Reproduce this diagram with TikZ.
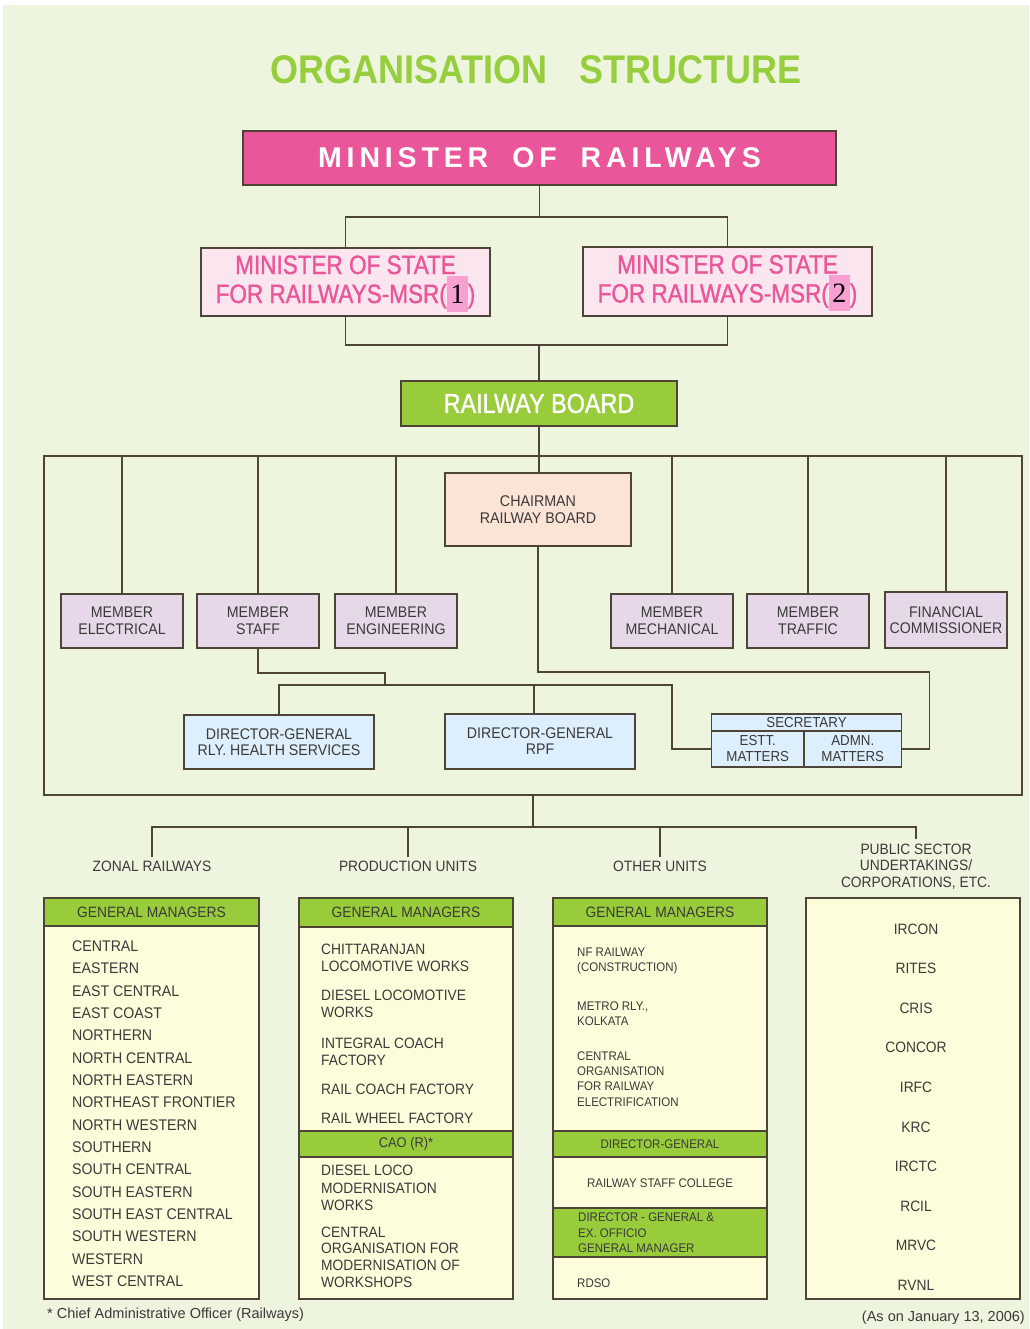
\documentclass[tikz,border=0pt]{standalone}
\usepackage{fontspec}
\usepackage{xcolor}
\setmainfont{Liberation Sans}[FakeStretch=0.92]
\newfontfamily\msrf{Liberation Sans}[FakeStretch=0.85, FakeBold=1.2]
\newfontfamily\titlef{Liberation Sans}[FakeStretch=0.9]
\newfontfamily\minf{Liberation Sans}[LetterSpace=17]
\newfontfamily\widef{Liberation Sans}
\newfontfamily\digf{Liberation Serif}
\definecolor{bg}{RGB}{237,245,222}
\definecolor{ttl}{RGB}{151,206,62}
\definecolor{mpink}{RGB}{233,87,154}
\definecolor{lpink}{RGB}{251,229,238}
\definecolor{hl}{RGB}{248,160,210}
\definecolor{gr}{RGB}{152,204,58}
\definecolor{peach}{RGB}{251,227,214}
\definecolor{lav}{RGB}{230,216,232}
\definecolor{lblue}{RGB}{221,239,252}
\definecolor{cream}{RGB}{253,253,219}
\definecolor{ln}{RGB}{78,68,56}
\definecolor{tx}{RGB}{58,58,58}
\newcommand\bx[7]{\node[#6, minimum width={#4-#2}, minimum height={#5-#3}] (#1) at ({(#2+#4)/2},{(#3+#5)/2}) {#7};}
\newcommand\hlt[1]{\smash{{\setlength{\fboxsep}{3.5pt}\colorbox{hl}{\rule[-5pt]{0pt}{29pt}\color{black}\digf\fontsize{28}{28}\selectfont #1}}}}
\tikzset{
  conn/.style={draw=ln, line width=1.5pt},
  bxs/.style={draw=ln, line width=1.5pt, inner sep=0pt, align=center, text=tx},
  mem/.style={bxs, fill=lav, font=\fontsize{15.4}{16.5}\selectfont},
  dgs/.style={bxs, fill=lblue, font=\fontsize{15.4}{16}\selectfont},
  secs/.style={bxs, fill=lblue, font=\fontsize{14.5}{16}\selectfont},
  hdr/.style={bxs, fill=gr, font=\fontsize{15}{16}\selectfont},
  body/.style={bxs, fill=cream},
  itm/.style={inner sep=0pt, text=tx, anchor=west, align=left},
  lbl/.style={inner xsep=0pt, inner ysep=4pt, text=tx, align=center, font=\fontsize{15}{16.7}\selectfont},
  zf/.style={font=\fontsize{15.4}{17}\selectfont},
  pf/.style={font=\fontsize{15}{17.2}\selectfont},
  of/.style={font=\fontsize{12.5}{15.3}\selectfont},
}
\begin{document}
\begin{tikzpicture}[x=1pt,y=-1pt]
\useasboundingbox (0,0) rectangle (1029,1329);
\fill[white] (0,0) rectangle (1029,1329);
\fill[bg] (3,5) rectangle (1029,1329);

\node[text=ttl, inner sep=0pt, font=\titlef\bfseries\fontsize{40}{40}\selectfont] (title) at (536,70) {ORGANISATION\hspace{32pt}STRUCTURE};

\bx{minister}{243}{131}{836}{185}{bxs, fill=mpink, text=white, font=\minf\bfseries\fontsize{28.5}{28}\selectfont}{MINISTER\hspace{24pt}OF\hspace{24pt}RAILWAYS}

\bx{msr1}{201}{248}{490}{316}{bxs, fill=lpink, text=mpink, font=\msrf\fontsize{26.5}{29}\selectfont}{MINISTER OF STATE\\FOR RAILWAYS-MSR(\hlt{1})}
\bx{msr2}{583}{247}{872}{316}{bxs, fill=lpink, text=mpink, font=\msrf\fontsize{26.5}{29}\selectfont}{MINISTER OF STATE\\FOR RAILWAYS-MSR(\hlt{2})}

\bx{rb}{401}{381}{677}{426}{bxs, fill=gr, text=white, font=\msrf\fontsize{27.5}{28}\selectfont}{RAILWAY BOARD}

\bx{frame}{44}{456}{1022}{795}{draw=ln, line width=1.5pt, inner sep=0pt}{}

\bx{chair}{445}{473}{631}{546}{bxs, fill=peach, font=\fontsize{15.5}{17}\selectfont}{CHAIRMAN\\RAILWAY BOARD}

\bx{mel}{61}{594}{183}{648}{mem}{MEMBER\\ELECTRICAL}
\bx{mst}{197}{594}{319}{648}{mem}{MEMBER\\STAFF}
\bx{men}{335}{594}{457}{648}{mem}{MEMBER\\ENGINEERING}
\bx{mme}{611}{594}{733}{648}{mem}{MEMBER\\MECHANICAL}
\bx{mtr}{747}{594}{869}{648}{mem}{MEMBER\\TRAFFIC}
\bx{mfc}{885}{592}{1007}{648}{mem}{FINANCIAL\\COMMISSIONER}

\bx{dgh}{184}{715}{374}{769}{dgs}{DIRECTOR-GENERAL\\RLY. HEALTH SERVICES}
\bx{dgr}{445}{714}{635}{769}{dgs}{DIRECTOR-GENERAL\\RPF}
\bx{sech}{711.5}{714}{901.5}{731}{secs}{SECRETARY}
\bx{sece}{711.5}{731}{804}{767}{secs}{ESTT.\\MATTERS}
\bx{seca}{804}{731}{901.5}{767}{secs}{ADMN.\\MATTERS}

% connectors top
\coordinate (j1) at (536,217);
\draw[conn] (minister.south) -- (minister.south |- j1);
\draw[conn] (msr1.north) |- (j1) -| (msr2.north);
\coordinate (j2) at (538,345);
\draw[conn] (msr1.south) |- (j2) -| (msr2.south);
\draw[conn] (rb.north) -- (rb.north |- j2);
\draw[conn] (rb.south) -- (rb.south |- chair.north);
\foreach \m in {mel,mst,men,mme,mtr,mfc} \draw[conn] (\m.north) -- (\m.north |- frame.north);
\coordinate (k1) at (385,685);
\coordinate (k2) at (672,685);
\coordinate (k3) at (929.5,672);
\draw[conn] (mst.south) -- ++(0,24) -| (k1);
\draw[conn] (dgh.north) |- (k2) |- (sece.west);
\draw[conn] ([xshift=-6pt]dgr.north) -- ([xshift=-6pt]dgr.north |- k2);
\draw[conn] (chair.south) |- (k3) |- (seca.east);

% lower labels
\node[lbl] (lz) at (152,866.5) {ZONAL RAILWAYS};
\node[lbl] (lp) at (408,866.5) {PRODUCTION UNITS};
\node[lbl] (lo) at (660,866.5) {OTHER UNITS};
\node[lbl] (lu) at (916,866.5) {PUBLIC SECTOR\\UNDERTAKINGS/\\CORPORATIONS, ETC.};
\coordinate (b0) at (533,827);
\draw[conn] (frame.south -| b0) -- (b0);
\draw[conn] (lz.north) |- (b0) -| (lu.north);
\draw[conn] (lp.north) -- (lp.north |- b0);
\draw[conn] (lo.north) -- (lo.north |- b0);

% columns
\bx{zb}{44}{898}{259}{1299}{body}{}
\bx{zh}{44}{898}{259}{926}{hdr}{GENERAL MANAGERS}
\bx{pb}{299}{898}{513}{1299}{body}{}
\bx{ph}{299}{898}{513}{927}{hdr}{GENERAL MANAGERS}
\bx{pc}{299}{1131}{513}{1157}{hdr, font=\fontsize{14}{15}\selectfont}{CAO (R)*}
\bx{ob}{553}{898}{767}{1299}{body}{}
\bx{oh}{553}{898}{767}{926}{hdr}{GENERAL MANAGERS}
\bx{od}{553}{1131}{767}{1157}{hdr, font=\fontsize{12.5}{14}\selectfont}{DIRECTOR-GENERAL}
\bx{oe}{553}{1208}{767}{1257}{hdr}{}
\bx{sb}{806}{898}{1020}{1299}{body}{}

\foreach \t [count=\i from 0] in {CENTRAL,EASTERN,EAST CENTRAL,EAST COAST,NORTHERN,NORTH CENTRAL,NORTH EASTERN,NORTHEAST FRONTIER,NORTH WESTERN,SOUTHERN,SOUTH CENTRAL,SOUTH EASTERN,SOUTH EAST CENTRAL,SOUTH WESTERN,WESTERN,WEST CENTRAL}
  \node[itm, zf] (z\i) at (72,{946+22.35*\i}) {\t};

\node[itm, pf] (p1) at (321,958) {CHITTARANJAN\\LOCOMOTIVE WORKS};
\node[itm, pf] (p2) at (321,1003.5) {DIESEL LOCOMOTIVE\\WORKS};
\node[itm, pf] (p3) at (321,1051.5) {INTEGRAL COACH\\FACTORY};
\node[itm, pf] (p4) at (321,1089) {RAIL COACH FACTORY};
\node[itm, pf] (p5) at (321,1118) {RAIL WHEEL FACTORY};
\node[itm, pf] (p6) at (321,1188) {DIESEL LOCO\\MODERNISATION\\WORKS};
\node[itm, pf, font=\fontsize{15}{16.7}\selectfont] (p7) at (321,1257) {CENTRAL\\ORGANISATION FOR\\MODERNISATION OF\\WORKSHOPS};

\node[itm, of] (o1) at (577,961) {NF RAILWAY\\(CONSTRUCTION)};
\node[itm, of] (o2) at (577,1013.5) {METRO RLY.,\\KOLKATA};
\node[itm, of] (o3) at (577,1079) {CENTRAL\\ORGANISATION\\FOR RAILWAY\\ELECTRIFICATION};
\node[inner sep=0pt, text=tx, of] (o4) at (660,1183) {RAILWAY STAFF COLLEGE};
\node[itm, of] (o5) at (578,1232.7) {DIRECTOR - GENERAL \&\\EX. OFFICIO\\GENERAL MANAGER};
\node[itm, of] (o6) at (577,1283) {RDSO};

\foreach \t [count=\i from 0] in {IRCON,RITES,CRIS,CONCOR,IRFC,KRC,IRCTC,RCIL,MRVC,RVNL}
  \node[inner sep=0pt, text=tx, font=\fontsize{15}{16}\selectfont] (u\i) at (916,{929+39.6*\i}) {\t};

\node[itm, font=\widef\fontsize{14.5}{15}\selectfont] (fn) at (47,1315) {* Chief Administrative Officer (Railways)};
\node[inner sep=0pt, text=tx, anchor=east, font=\widef\fontsize{14.5}{15}\selectfont] (asof) at (1025,1318) {(As on January 13, 2006)};
\end{tikzpicture}
\end{document}
